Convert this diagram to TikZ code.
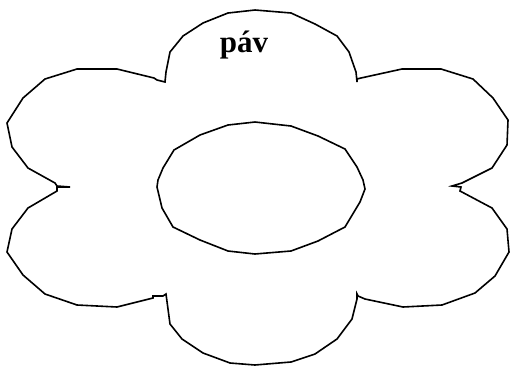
\documentclass[tikz,border=0pt]{standalone}
\usepackage{fontspec}
\setmainfont{Liberation Serif}
\begin{document}
\begin{tikzpicture}[x=1pt,y=-1pt,
  outline/.style={line width=1.6pt,line join=miter,black}]
\useasboundingbox (0,0) rectangle (510,367);
% flower outline
\draw[outline] (165,82) -- (166,72) -- (170,52) -- (183,36) -- (203,23) -- (228,13) -- (255,10) -- (291,13) -- (315,24) -- (337,36) -- (349,52) -- (356,72) -- (357,82) -- (357,79) -- (361,78)
 -- (402,69) -- (441,69) -- (473,79) -- (493,98) -- (508,120) -- (507,145) -- (492,168) -- (462,183) -- (452,186) -- (461,187) -- (460,191)
 -- (492,208) -- (507,229) -- (509,252) -- (495,276) -- (475,293) -- (442,305) -- (403,307) -- (365,299) -- (358,296) -- (357,294)
 -- (357,299) -- (352,319) -- (337,339) -- (315,354) -- (291,362) -- (255,365) -- (230,363) -- (203,353) -- (182,339) -- (170,324) -- (166,294) -- (163,296) -- (153,296)
 -- (153,298) -- (117,307) -- (77,305) -- (45,294) -- (23,275) -- (7,252) -- (12,229) -- (28,208) -- (57,191) -- (57,187) -- (70,187) -- (57,186)
 -- (55,183) -- (28,168) -- (12,147) -- (7,123) -- (23,98) -- (45,79) -- (77,69) -- (117,69) -- (154,78) -- (157,80) -- cycle;
% inner ellipse
\draw[outline] (255,122) -- (291,126) -- (318,136) -- (345,149) -- (357,167) -- (363,180) -- (365,189) -- (360,202) -- (345,227) -- (318,241) -- (291,251) -- (255,254)
 -- (228,251) -- (200,240) -- (173,227) -- (162,208) -- (157,187) -- (158,180) -- (163,168) -- (174,150) -- (200,135) -- (228,125) -- cycle;
\node[font=\bfseries\fontsize{31}{36}\selectfont, anchor=base, inner sep=0pt] (title) at (244,52) {páv};
\end{tikzpicture}
\end{document}
